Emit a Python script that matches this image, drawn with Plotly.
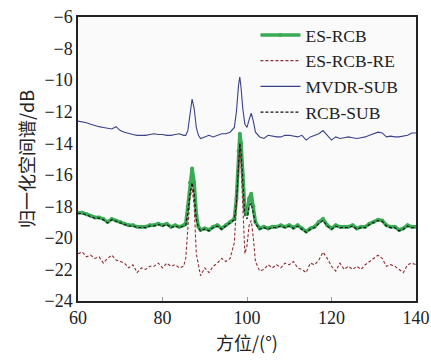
import plotly.graph_objects as go

angle = [60,61,62,63,64,65,66,67,68,69,70,71,72,73,74,75,76,77,78,79,80,81,82,83,84,85,85.5,86,86.5,87,87.5,88,88.5,89,90,91,92,93,94,95,96,97,97.5,98,98.3,98.6,99,99.5,100,100.5,101,101.5,102,103,104,105,106,107,108,109,110,111,112,113,114,115,116,117,118,119,120,121,122,123,124,125,126,127,128,129,130,131,132,133,134,135,136,137,138,139,140]

mvdr_sub = [-12.6,-12.65,-12.7,-12.8,-12.9,-12.95,-13.0,-13.05,-13.1,-12.95,-13.2,-13.3,-13.4,-13.45,-13.5,-13.5,-13.5,-13.45,-13.4,-13.45,-13.45,-13.5,-13.5,-13.45,-13.4,-13.5,-13.5,-13.2,-12.2,-11.2,-11.8,-13.0,-13.5,-13.7,-13.6,-13.5,-13.6,-13.5,-13.4,-13.4,-13.3,-13.0,-12.0,-10.3,-9.8,-10.5,-11.8,-12.8,-13.0,-12.5,-12.1,-12.6,-13.3,-13.6,-13.7,-13.5,-13.55,-13.6,-13.6,-13.5,-13.5,-13.55,-13.6,-13.5,-13.8,-13.6,-13.5,-13.4,-13.2,-13.5,-13.8,-13.6,-13.7,-13.65,-13.6,-13.65,-13.7,-13.65,-13.6,-13.5,-13.4,-13.3,-13.35,-13.6,-13.55,-13.6,-13.6,-13.55,-13.5,-13.35,-13.35]

es_rcb = [-18.4,-18.4,-18.5,-18.6,-18.7,-18.7,-18.8,-19.0,-18.8,-18.9,-19.0,-19.1,-19.2,-19.2,-19.3,-19.3,-19.3,-19.2,-19.2,-19.1,-19.2,-19.1,-19.3,-19.2,-19.3,-19.2,-19.1,-18.0,-16.5,-15.6,-16.5,-18.5,-19.3,-19.5,-19.4,-19.5,-19.3,-19.2,-19.4,-19.2,-19.0,-18.8,-17.5,-14.5,-13.4,-14.0,-16.0,-18.3,-18.5,-17.5,-17.2,-18.0,-19.0,-19.4,-19.3,-19.4,-19.3,-19.3,-19.2,-19.3,-19.2,-19.35,-19.2,-19.4,-19.6,-19.4,-19.3,-19.0,-18.8,-19.2,-19.4,-19.2,-19.3,-19.3,-19.3,-19.2,-19.4,-19.3,-19.3,-19.1,-19.0,-18.85,-18.9,-19.2,-19.3,-19.3,-19.5,-19.4,-19.2,-19.3,-19.3]

rcb_sub = [-18.45,-18.45,-18.55,-18.65,-18.75,-18.75,-18.85,-19.05,-18.85,-18.95,-19.05,-19.15,-19.25,-19.25,-19.35,-19.35,-19.35,-19.25,-19.25,-19.15,-19.25,-19.15,-19.35,-19.25,-19.35,-19.25,-19.2,-18.4,-17.2,-16.5,-17.2,-18.8,-19.35,-19.55,-19.45,-19.55,-19.35,-19.25,-19.45,-19.25,-19.05,-18.85,-17.8,-15.0,-14.0,-14.6,-16.5,-18.6,-18.8,-18.0,-17.8,-18.4,-19.1,-19.45,-19.35,-19.45,-19.35,-19.35,-19.25,-19.35,-19.25,-19.4,-19.25,-19.45,-19.65,-19.45,-19.35,-19.1,-18.9,-19.25,-19.45,-19.25,-19.35,-19.35,-19.35,-19.25,-19.45,-19.35,-19.35,-19.15,-19.05,-18.9,-18.95,-19.25,-19.35,-19.35,-19.55,-19.45,-19.25,-19.35,-19.35]

es_rcb_re = [-21.0,-20.9,-21.2,-21.1,-21.3,-21.2,-21.6,-21.3,-21.1,-21.4,-21.5,-21.6,-21.9,-21.7,-22.2,-21.9,-22.0,-21.8,-21.8,-21.6,-21.9,-21.6,-21.8,-21.7,-21.9,-21.8,-21.3,-19.5,-17.5,-16.8,-18.0,-21.0,-21.8,-22.4,-21.9,-22.2,-21.8,-21.6,-21.3,-21.5,-21.3,-20.3,-18.0,-15.0,-14.0,-15.5,-18.5,-21.0,-20.5,-19.2,-18.9,-20.0,-21.5,-22.1,-22.0,-21.7,-21.9,-21.7,-21.9,-21.6,-21.7,-21.5,-21.9,-22.0,-22.2,-21.6,-21.7,-21.4,-20.9,-21.3,-21.8,-22.1,-21.6,-22.0,-21.8,-22.0,-21.8,-22.0,-21.7,-21.5,-21.3,-21.1,-21.3,-21.8,-21.7,-21.8,-22.0,-22.2,-21.7,-21.6,-21.7]

x_ticks = [60, 80, 100, 120, 140]
y_ticks = [-24, -22, -20, -18, -16, -14, -12, -10, -8, -6]

serif = "Liberation Serif, Times New Roman, serif"
cjk = "Noto Sans CJK SC, " + serif

fig = go.Figure()
fig.add_trace(go.Scatter(x=angle, y=es_rcb, name="ES-RCB", mode="lines+markers",
                         line=dict(color="#3aaa55", width=3.5),
                         marker=dict(color="#3aaa55", size=4)))
fig.add_trace(go.Scatter(x=angle, y=es_rcb_re, name="ES-RCB-RE", mode="lines",
                         line=dict(color="#8c2f35", width=1.1, dash="3px,2px")))
fig.add_trace(go.Scatter(x=angle, y=mvdr_sub, name="MVDR-SUB", mode="lines",
                         line=dict(color="#3a428a", width=1.1)))
fig.add_trace(go.Scatter(x=angle, y=rcb_sub, name="RCB-SUB", mode="lines",
                         line=dict(color="#111111", width=1.1, dash="3px,2px")))

fig.update_layout(
    width=431, height=362,
    margin=dict(l=78, r=15, t=17, b=61),
    paper_bgcolor="white", plot_bgcolor="#fafafa",
    font=dict(family=serif, size=18, color="#222222"),
    showlegend=True,
    legend=dict(x=0.525, y=1.0, xanchor="left", yanchor="top",
                bgcolor="rgba(0,0,0,0)", font=dict(family=serif, size=17.5),
                itemwidth=40, tracegroupgap=0),
    xaxis=dict(range=[60, 140], tickvals=x_ticks, showgrid=False, zeroline=False,
               showline=True, linecolor="#222", linewidth=1.5, mirror=True,
               ticks="inside", ticklen=4, tickcolor="#999", automargin=False,
               title=dict(text="方位/(°)", font=dict(family=cjk, size=18), standoff=10)),
    yaxis=dict(range=[-24, -6], tickvals=y_ticks, showgrid=False, zeroline=False,
               showline=True, linecolor="#222", linewidth=1.5, mirror=True,
               ticks="", ticklen=0, automargin=False,
               title=dict(text="归一化空间谱/dB", font=dict(family=cjk, size=18), standoff=5)),
)

fig.write_html("out.html", config={"displayModeBar": False},
               post_script="document.body.style.margin='0';document.body.style.overflow='hidden';")
